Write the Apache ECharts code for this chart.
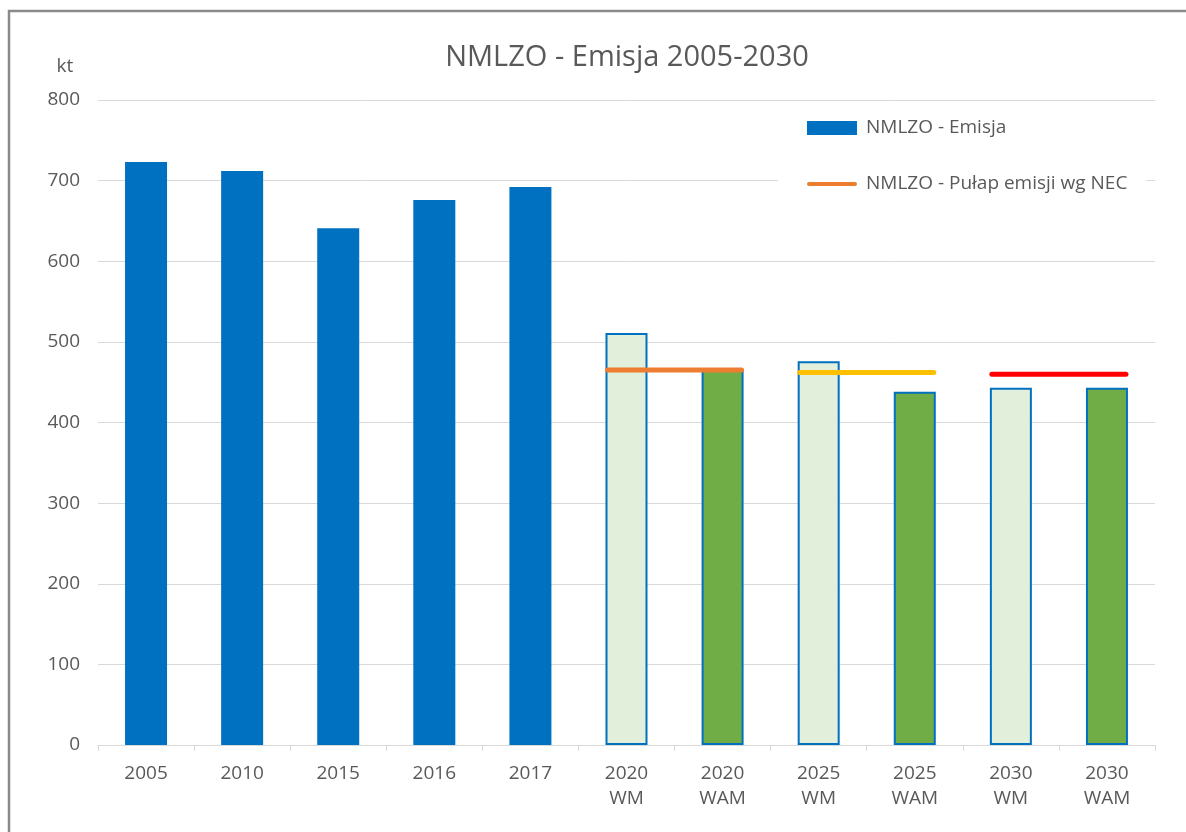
<!DOCTYPE html>
<html>
<head>
<meta charset="utf-8">
<script src="https://cdn.jsdelivr.net/npm/echarts@6/dist/echarts.min.js"></script>
<style>
html,body{margin:0;padding:0;background:#fff;}
#chart{width:1186px;height:832px;}
</style>
</head>
<body>
<div id="chart"></div>
<script>
// ---- data ----
const categories = ['2005', '2010', '2015', '2016', '2017', '2020\nWM', '2020\nWAM', '2025\nWM', '2025\nWAM', '2030\nWM', '2030\nWAM'];
const emissionValues = [723, 712, 641, 676, 692, 511, 465, 476, 438, 443, 443];
const ceilingStart = ['2020\nWM', '2025\nWM', '2030\nWM'];
const ceilingEnd = ['2020\nWAM', '2025\nWAM', '2030\nWAM'];
const ceilingValues = [465, 462, 460];
const yTicks = [0, 100, 200, 300, 400, 500, 600, 700, 800];

const titleText = 'NMLZO - Emisja 2005-2030';
const unitText = 'kt';
const emissionName = 'NMLZO - Emisja';
const ceilingName = 'NMLZO - Pułap emisji wg NEC';

// ---- styles ----
const FONT = 'Open Sans';
const TXT = '#595959';
const GRID = '#d9d9d9';
const BLUE = '#0070C0';
const LIGHTGREEN = '#E2EFDA';
const DARKGREEN = '#70AD47';
const ceilingColors = ['#ED7D31', '#FFC000', '#FF0000'];
const BAR_W = 42;

function barStyle(label) {
  if (/WAM$/.test(label)) return { color: DARKGREEN, borderColor: BLUE, borderWidth: 2 };
  if (/WM$/.test(label)) return { color: LIGHTGREEN, borderColor: BLUE, borderWidth: 2 };
  return { color: BLUE };
}

const barData = emissionValues.map((v, i) => ({ value: v, itemStyle: barStyle(categories[i]) }));

const ceilingSeries = ceilingValues.map((v, i) => ({
  name: i === 0 ? ceilingName : ceilingName + ' ' + (i + 1),
  type: 'custom',
  z: 5,
  itemStyle: { color: ceilingColors[i] },
  data: [[categories.indexOf(ceilingStart[i]), categories.indexOf(ceilingEnd[i]), v]],
  renderItem: function (params, api) {
    const p1 = api.coord([api.value(0), api.value(2)]);
    const p2 = api.coord([api.value(1), api.value(2)]);
    return {
      type: 'line',
      shape: { x1: p1[0] - BAR_W / 2 + 2, y1: p1[1], x2: p2[0] + BAR_W / 2 - 2, y2: p2[1] },
      style: { stroke: ceilingColors[i], lineWidth: 5, lineCap: 'round' }
    };
  }
}));

const chart = echarts.init(document.getElementById('chart'));
chart.setOption({
  animation: false,
  backgroundColor: '#fff',
  textStyle: { fontFamily: FONT },
  grid: { left: 98, right: 31, top: 100, bottom: 87, containLabel: false },
  graphic: [
    { type: 'rect', z: -10, shape: { x: 9, y: 11, width: 1400, height: 1000 }, style: { fill: 'none', stroke: '#8a8a8a', lineWidth: 2.5 } },
    { type: 'text', x: 627, y: 58, style: { text: titleText, fill: TXT, font: '29px "' + FONT + '"', textAlign: 'center', textVerticalAlign: 'middle' } },
    { type: 'text', x: 65, y: 67, style: { text: unitText, fill: TXT, font: '19px "' + FONT + '"', textAlign: 'center', textVerticalAlign: 'middle' } }
  ],
  legend: {
    orient: 'vertical',
    left: 778,
    top: 108,
    padding: [10, 19, 10, 29],
    backgroundColor: '#fff',
    itemWidth: 50,
    itemHeight: 14,
    itemGap: 36,
    textStyle: { fontFamily: FONT, fontSize: 19, color: TXT, lineHeight: 20, padding: [0, 0, 0, 4] },
    data: [
      { name: emissionName, icon: 'rect', itemStyle: { color: BLUE } },
      { name: ceilingName, icon: 'path://M2,0 H48 A2,2 0 0 1 48,4 H2 A2,2 0 0 1 2,0 Z', itemStyle: { color: ceilingColors[0] } }
    ]
  },
  xAxis: {
    type: 'category',
    data: categories,
    z: 3,
    axisLine: { lineStyle: { color: GRID, width: 1 } },
    axisTick: { show: true, length: 6, lineStyle: { color: GRID } },
    axisLabel: { color: TXT, fontSize: 19, fontFamily: FONT, lineHeight: 25, margin: 16, interval: 0 }
  },
  yAxis: {
    type: 'value',
    min: yTicks[0],
    max: yTicks[yTicks.length - 1],
    interval: yTicks[1] - yTicks[0],
    axisLine: { show: false },
    axisTick: { show: false },
    splitLine: { lineStyle: { color: GRID, width: 1 } },
    axisLabel: { color: TXT, fontSize: 19, fontFamily: FONT, margin: 18 }
  },
  series: [
    {
      name: emissionName,
      type: 'bar',
      barWidth: BAR_W,
      itemStyle: { color: BLUE },
      data: barData
    }
  ].concat(ceilingSeries)
});
</script>
</body>
</html>
